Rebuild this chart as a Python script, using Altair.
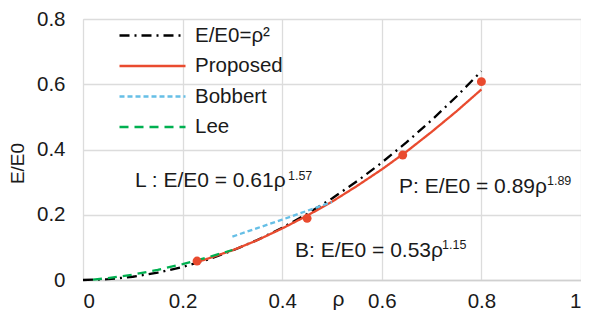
import altair as alt
import pandas as pd

# ---- data ----
series_names = ["E/E0=ρ²", "Proposed", "Bobbert", "Lee"]
series_colors = ["#000000", "#E94B2F", "#66BFE6", "#00B050"]
series_dash = [[10, 5, 2, 5], [1, 0], [5, 3], [9, 6]]

rho2_x = [0, 0.05, 0.1, 0.15, 0.2, 0.25, 0.3, 0.35, 0.4, 0.45, 0.5, 0.55, 0.6, 0.65, 0.7, 0.75, 0.8]
rho2_y = [0, 0.0025, 0.01, 0.0225, 0.04, 0.0625, 0.09, 0.1225, 0.16, 0.2025, 0.25, 0.3025, 0.36, 0.4225, 0.49, 0.5625, 0.64]

prop_x = [0.23, 0.3, 0.35, 0.4, 0.45, 0.5, 0.55, 0.6, 0.65, 0.7, 0.75, 0.8]
prop_y = [0.055, 0.091, 0.122, 0.158, 0.197, 0.240, 0.288, 0.339, 0.394, 0.454, 0.517, 0.584]

bob_x = [0.3, 0.35, 0.4, 0.45, 0.5]
bob_y = [0.133, 0.159, 0.185, 0.212, 0.239]

lee_x = [0.02, 0.05, 0.1, 0.15, 0.2, 0.25, 0.3]
lee_y = [0.0013, 0.0055, 0.0164, 0.031, 0.0487, 0.0692, 0.092]

pts_x = [0.229, 0.45, 0.642, 0.80]
pts_y = [0.058, 0.189, 0.383, 0.608]

ann_text = ["L : E/E0 = 0.61ρ", "P: E/E0 = 0.89ρ", "B: E/E0 = 0.53ρ"]
ann_x = [0.1044, 0.6345, 0.4257]
ann_y = [0.2851, 0.2667, 0.0705]
sup_text = ["1.57", "1.89", "1.15"]
sup_x = [0.4116, 0.9317, 0.7209]
sup_y = [0.3065, 0.2912, 0.0950]

x_ticks = [0, 0.2, 0.4, 0.6, 0.8, 1.0]
y_ticks = [0, 0.2, 0.4, 0.6, 0.8]

# ---- tables ----
rows = []
for name, xs, ys in zip(series_names, [rho2_x, prop_x, bob_x, lee_x], [rho2_y, prop_y, bob_y, lee_y]):
    for xv, yv in zip(xs, ys):
        rows.append({"series": name, "rho": xv, "E": yv})
lines_df = pd.DataFrame(rows)
pts_df = pd.DataFrame({"rho": pts_x, "E": pts_y})
ann_df = pd.DataFrame({"rho": ann_x, "E": ann_y, "t": ann_text})
sup_df = pd.DataFrame({"rho": sup_x, "E": sup_y, "t": sup_text})

FONT = "Liberation Sans"
TXT = "#1a1a1a"
W = 498
H = 261

xscale = alt.Scale(domain=[0, 1], nice=False, zero=False)
yscale = alt.Scale(domain=[0, 0.8], nice=False)

x_enc = alt.X("rho:Q", scale=xscale, title="ρ",
              axis=alt.Axis(values=x_ticks, format=".1~f", grid=True, ticks=False,
                            labelPadding=11, labelFontSize=20.5, labelFont=FONT, labelColor=TXT,
                            domain=True, domainColor="#d0d0d0", domainWidth=1.5,
                            gridColor="#dcdcdc", gridWidth=1.3,
                            titleFont=FONT, titleFontSize=21, titleFontWeight="normal", titleColor=TXT,
                            titleX=255, titleY=25, titleBaseline="alphabetic",
                            titleAlign="center"))
y_enc = alt.Y("E:Q", scale=yscale, title="E/E0",
              axis=alt.Axis(values=y_ticks, format=".1~f", grid=True, ticks=False,
                            labelPadding=18, labelFontSize=20.5, labelFont=FONT, labelColor=TXT,
                            domain=False, gridColor="#dcdcdc", gridWidth=1.3,
                            titleFont=FONT, titleFontSize=19, titleFontWeight="normal", titleColor=TXT,
                            titleX=-60, titleY=144, titleAngle=270, titleAlign="center",
                            titleBaseline="alphabetic"))

lines = alt.Chart(lines_df).mark_line(strokeWidth=2.3).encode(
    x=x_enc,
    y=y_enc,
    color=alt.Color("series:N", scale=alt.Scale(domain=series_names, range=series_colors),
                    legend=alt.Legend(title=None, orient="none", legendX=53, legendY=0,
                                      symbolType="M-2.2,0L2.2,0", symbolSize=900,
                                      symbolStrokeWidth=2.5,
                                      labelFontSize=20.5, labelFont=FONT, labelColor=TXT,
                                      labelOffset=26, rowPadding=3.5, padding=0)),
    strokeDash=alt.StrokeDash("series:N", scale=alt.Scale(domain=series_names, range=series_dash),
                              legend=None),
)

points = alt.Chart(pts_df).mark_circle(size=80, opacity=1, color="#E94B2F").encode(
    x=alt.X("rho:Q", scale=xscale), y=alt.Y("E:Q", scale=yscale))

ann = alt.Chart(ann_df).mark_text(align="left", baseline="alphabetic", fontSize=21, font=FONT,
                                   color=TXT).encode(
    x=alt.X("rho:Q", scale=xscale), y=alt.Y("E:Q", scale=yscale), text="t:N")

sup = alt.Chart(sup_df).mark_text(align="left", baseline="alphabetic", fontSize=12.5, font=FONT,
                                   color=TXT).encode(
    x=alt.X("rho:Q", scale=xscale), y=alt.Y("E:Q", scale=yscale), text="t:N")

chart = alt.layer(lines, points, ann, sup).properties(
    width=W, height=H,
    autosize=alt.AutoSizeParams(type="none"),
    padding={"left": 75, "top": 11, "right": 0, "bottom": 30},
).configure_view(strokeWidth=0).configure(background="white")

chart.save("out.html", embed_options={"renderer": "svg", "actions": False})
